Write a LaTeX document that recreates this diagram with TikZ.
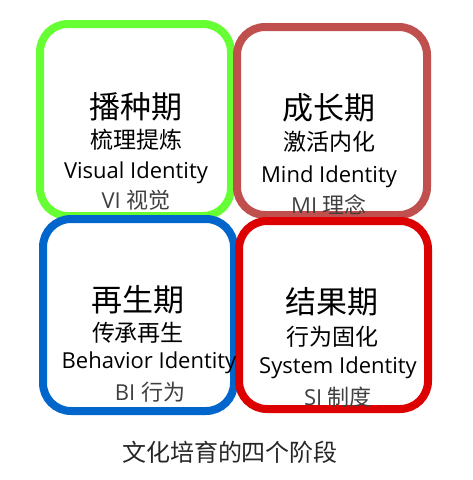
\documentclass[tikz,border=0pt]{standalone}
\usepackage{fontspec}
\setmainfont{Noto Sans CJK SC}
\newfontfamily\cjk{Noto Sans CJK SC}
\newfontfamily\lat{Open Sans}
\definecolor{cgreen}{HTML}{66FF33}
\definecolor{cbrown}{HTML}{C0504D}
\definecolor{cblue}{HTML}{0066CC}
\definecolor{cred}{HTML}{DD0000}
\definecolor{cgray}{HTML}{404040}
\tikzset{
  x=1pt, y=-1pt,
  stagebox/.style={draw=#1, line width=8pt, rounded corners=28pt, fill=white, inner sep=0pt},
  ttl/.style={inner sep=0pt, font=\cjk\fontsize{31}{31}\selectfont},
  sub/.style={inner sep=0pt, font=\cjk\fontsize{23}{23}\selectfont},
  eng/.style={inner sep=0pt, font=\lat\fontsize{22}{22}\selectfont},
  abbr/.style={inner sep=0pt, text=cgray, font=\lat\fontsize{22}{22}\selectfont},
  captxt/.style={inner sep=0pt, text=black!85, font=\cjk\fontsize{24}{24}\selectfont},
}
\begin{document}
\begin{tikzpicture}
\useasboundingbox (0,0) rectangle (473,480);
\node[stagebox=cgreen, minimum width=191pt, minimum height=192pt] (g) at (135.5,120) {};
\node[stagebox=cbrown, minimum width=190pt, minimum height=188pt] (b) at (332,121) {};
\node[stagebox=cblue, minimum width=191pt, minimum height=192pt] (u) at (138.5,315) {};
\node[stagebox=cred, minimum width=189pt, minimum height=188pt] (r) at (333.5,315) {};
% green
\node[ttl] (g1) at (136,107) {播种期};
\node[sub] (g2) at (136,140) {梳理提炼};
\node[eng] (g3) at (136,173) {Visual Identity};
\node[abbr] (g4) at (136,200) {VI {\cjk 视觉}};
% brown
\node[ttl] (b1) at (329,108) {成长期};
\node[sub] (b2) at (329,142) {激活内化};
\node[eng] (b3) at (329,177) {Mind Identity};
\node[abbr] (b4) at (329,205) {MI {\cjk 理念}};
% blue
\node[ttl] (u1) at (138,300) {再生期};
\node[sub] (u2) at (138,333) {传承再生};
\node[eng] (u3) at (149,363) {Behavior Identity};
\node[abbr] (u4) at (150,392) {BI {\cjk 行为}};
% red
\node[ttl] (r1) at (332,302) {结果期};
\node[sub] (r2) at (332,337) {行为固化};
\node[eng] (r3) at (338,368) {System Identity};
\node[abbr] (r4) at (338,397) {SI {\cjk 制度}};
% caption
\node[captxt] (c) at (230,452) {文化培育的四个阶段};
\end{tikzpicture}
\end{document}
